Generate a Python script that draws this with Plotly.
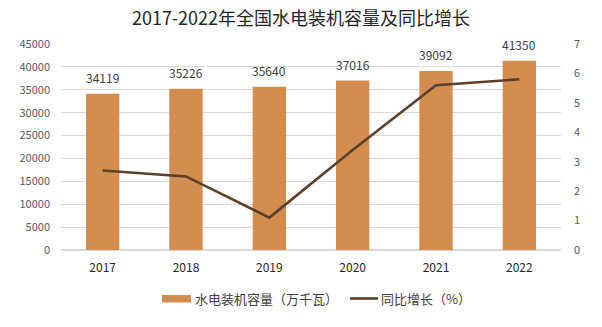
import plotly.graph_objects as go

years = ["2017", "2018", "2019", "2020", "2021", "2022"]
capacity = [34119, 35226, 35640, 37016, 39092, 41350]   # 水电装机容量（万千瓦）
growth = [2.7, 2.5, 1.1, 3.4, 5.6, 5.8]                 # 同比增长（%）

left_ticks = list(range(0, 45001, 5000))
right_ticks = list(range(0, 8))

bar_color = "#D38D4F"
line_color = "#5B412C"
text_color = "#595959"
font_family = "Noto Sans CJK SC, Microsoft YaHei, sans-serif"

# plot area in pixels (for placing the legend under the axis)
PL, PR, PT, PB = 61, 561, 44, 250


def px_x(px):
    return (px - PL) / (PR - PL)


def px_y(py):
    return (PB - py) / (PB - PT)


fig = go.Figure()
fig.add_trace(go.Bar(
    x=years, y=capacity, name="水电装机容量（万千瓦）",
    marker=dict(color=bar_color, line=dict(width=0)), yaxis="y",
))
fig.add_trace(go.Scatter(
    x=years, y=growth, name="同比增长（%）", mode="lines",
    line=dict(color=line_color, width=2.6), yaxis="y2",
))

# value labels above the bars
for i, v in enumerate(capacity):
    fig.add_annotation(x=i, y=v, xref="x", yref="y", text=str(v),
                       showarrow=False, yanchor="bottom", yshift=6,
                       font=dict(size=12, color="#404040"))

fig.update_layout(
    width=602, height=327,
    margin=dict(l=PL, r=602 - PR, t=PT, b=327 - PB),
    paper_bgcolor="white", plot_bgcolor="white",
    font=dict(family=font_family, color=text_color, size=11),
    showlegend=False,
    bargap=0.6,
    title=dict(text="2017-2022年全国水电装机容量及同比增长",
               x=0.5, xanchor="center", y=0.942, yanchor="middle",
               font=dict(size=18, color="#262626", family=font_family)),
    xaxis=dict(type="category", showgrid=False, showline=False, ticks="",
               ticklabelstandoff=9,
               tickfont=dict(size=12, color="#262626")),
    yaxis=dict(range=[0, 45000], tickvals=left_ticks,
               ticktext=[str(t) for t in left_ticks], showgrid=True,
               gridcolor="#D9D9D9", gridwidth=1, zeroline=True,
               zerolinecolor="#D9D9D9", showline=False, ticks="",
               ticklabelstandoff=10, tickfont=dict(size=11, color=text_color)),
    yaxis2=dict(range=[0, 7], tickvals=right_ticks, overlaying="y", side="right",
                showgrid=False, zeroline=False, showline=False, ticks="",
                ticklabelstandoff=12, tickfont=dict(size=11, color=text_color)),
)

# Legend drawn below the plot: wide swatch for bars, short stroke for the line
fig.add_shape(type="rect", xref="paper", yref="paper",
              x0=px_x(162), x1=px_x(191), y0=px_y(302.5), y1=px_y(295),
              fillcolor=bar_color, line=dict(width=0))
fig.add_annotation(xref="paper", yref="paper", x=px_x(193), y=px_y(298.5),
                   xanchor="left", yanchor="middle",
                   text="水电装机容量（万千瓦）", showarrow=False,
                   font=dict(size=13, color="#404040"))
fig.add_shape(type="line", xref="paper", yref="paper",
              x0=px_x(350), x1=px_x(378), y0=px_y(298.5), y1=px_y(298.5),
              line=dict(color=line_color, width=2.6))
fig.add_annotation(xref="paper", yref="paper", x=px_x(379), y=px_y(298.5),
                   xanchor="left", yanchor="middle",
                   text="同比增长（%）", showarrow=False,
                   font=dict(size=13, color="#404040"))

fig.write_html("out.html")
